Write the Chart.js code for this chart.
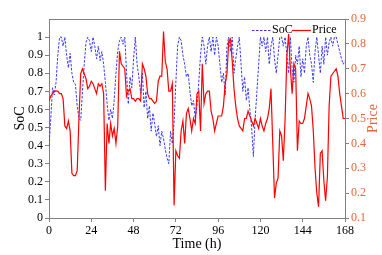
<!DOCTYPE html>
<html>
<head>
<meta charset="utf-8">
<script src="https://cdn.jsdelivr.net/npm/chart.js@4"></script>
<style>
  body { margin: 0; background: #fff; }
  #wrap { width: 382px; height: 255px; }
</style>
</head>
<body>
<div id="wrap"><canvas id="socChart" width="382" height="255"></canvas></div>
<script>
// hourly time axis, 0..168 h
const hours = Array.from({ length: 169 }, (_, i) => i);

const socValues = [
  0.40, 0.55, 0.72, 0.68, 0.75, 0.90, 1.00, 1.00, 0.95, 1.00,
  0.90, 0.83, 0.91, 0.80, 0.75, 0.74, 0.62, 0.55, 0.54, 0.70,
  0.85, 0.97, 1.00, 0.98, 0.92, 1.00, 0.95, 0.88, 0.95, 0.87,
  0.92, 0.85, 0.75, 0.63, 0.54, 0.60, 0.55, 0.65, 0.80, 0.92,
  0.98, 1.00, 0.96, 1.00, 0.81, 0.63, 0.78, 0.72, 0.88, 1.00,
  0.85, 0.78, 0.69, 0.80, 0.61, 0.70, 0.55, 0.62, 0.48, 0.58,
  0.52, 0.45, 0.51, 0.40, 0.48, 0.44, 0.38, 0.33, 0.30, 0.48,
  0.41, 0.53, 0.75, 0.95, 1.00, 0.98, 0.90, 0.85, 0.78, 0.80,
  0.70, 0.62, 0.65, 0.55, 0.62, 0.75, 0.90, 1.00, 0.95, 0.85,
  0.95, 1.00, 0.92, 1.00, 0.90, 1.00, 0.95, 0.85, 0.75, 0.80,
  0.68, 0.95, 1.00, 0.92, 1.00, 0.80, 0.88, 0.95, 1.00, 0.85,
  0.70, 0.78, 0.65, 0.72, 0.60, 0.50, 0.34, 0.55, 0.70, 0.85,
  1.00, 0.95, 1.00, 0.92, 1.00, 0.85, 0.95, 1.00, 0.88, 0.80,
  0.90, 1.00, 1.00, 0.95, 1.00, 0.90, 0.80, 1.00, 0.82, 0.75,
  0.90, 0.85, 0.95, 0.78, 0.88, 0.80, 0.95, 1.00, 0.90, 0.85,
  0.75, 0.92, 1.00, 0.90, 0.80, 0.95, 0.85, 1.00, 0.90, 0.97,
  1.00, 0.95, 1.00, 1.00, 0.96, 0.92, 0.88, 0.85, 0.87
];

const priceValues = [
  0.57, 0.59, 0.60, 0.61, 0.61, 0.61, 0.60, 0.60, 0.58, 0.47,
  0.46, 0.49, 0.45, 0.28, 0.27, 0.27, 0.29, 0.50, 0.68, 0.70,
  0.68, 0.66, 0.62, 0.63, 0.65, 0.64, 0.62, 0.60, 0.64, 0.63,
  0.64, 0.60, 0.21, 0.48, 0.40, 0.48, 0.43, 0.46, 0.40, 0.47,
  0.77, 0.72, 0.71, 0.70, 0.59, 0.61, 0.62, 0.58, 0.58, 0.57,
  0.58, 0.58, 0.57, 0.72, 0.70, 0.67, 0.60, 0.58, 0.58, 0.57,
  0.56, 0.57, 0.65, 0.67, 0.67, 0.85, 0.73, 0.70, 0.61, 0.61,
  0.64, 0.15, 0.37, 0.35, 0.34, 0.45, 0.49, 0.40, 0.52, 0.54,
  0.50, 0.45, 0.50, 0.48, 0.60, 0.61, 0.45, 0.72, 0.56, 0.60,
  0.61, 0.61, 0.53, 0.50, 0.45, 0.48, 0.51, 0.51, 0.51, 0.55,
  0.64, 0.68, 0.81, 0.82, 0.73, 0.62, 0.55, 0.50, 0.47, 0.46,
  0.45, 0.50, 0.50, 0.53, 0.51, 0.49, 0.47, 0.50, 0.48, 0.46,
  0.50, 0.47, 0.45, 0.48, 0.50, 0.54, 0.62, 0.40, 0.18, 0.24,
  0.26, 0.45, 0.43, 0.33, 0.50, 0.75, 0.84, 0.70, 0.60, 0.72,
  0.70, 0.37, 0.49, 0.48, 0.48, 0.50, 0.55, 0.60, 0.58, 0.55,
  0.45, 0.30, 0.20, 0.145, 0.36, 0.37, 0.25, 0.17, 0.265, 0.55,
  0.67, 0.68, 0.69, 0.70, 0.67, 0.60, 0.55, 0.50, 0.50
];

const serif = 'Liberation Serif';
const axisGray = '#808080';
const priceAxisColor = '#e2683a';
const socColor = 'rgb(55, 55, 255)';
const priceColor = '#ff0000';

// frame top edge + right-axis title (reads bottom-to-top) + legend inside plot
const framePlugin = {
    id: 'frame',
    afterDraw(chart) {
        const { ctx, chartArea } = chart;
        ctx.save();
        ctx.strokeStyle = axisGray;
        ctx.lineWidth = 1;
        ctx.beginPath();
        ctx.moveTo(chartArea.left, chartArea.top + 0.5);
        ctx.lineTo(chartArea.right, chartArea.top + 0.5);
        ctx.stroke();

        ctx.fillStyle = priceAxisColor;
        ctx.font = '14px "' + serif + '"';
        ctx.textAlign = 'center';
        ctx.textBaseline = 'middle';
        ctx.translate(373, (chartArea.top + chartArea.bottom) / 2);
        ctx.rotate(-Math.PI / 2);
        ctx.fillText('Price', 0, 0);
        ctx.restore();

        // legend
        const items = chart.data.datasets.map(ds => ({
            text: ds.label, color: ds.borderColor, dash: ds.borderDash || [], width: ds.borderWidth
        }));
        const starts = [252, 292];
        ctx.save();
        ctx.font = '12px "' + serif + '"';
        ctx.textBaseline = 'middle';
        ctx.textAlign = 'left';
        const ly = 30;
        items.forEach((it, i) => {
            const x0 = starts[i];
            ctx.strokeStyle = it.color;
            ctx.lineWidth = it.width;
            ctx.setLineDash(it.dash);
            ctx.beginPath();
            ctx.moveTo(x0, ly + 0.5);
            ctx.lineTo(x0 + 19, ly + 0.5);
            ctx.stroke();
            ctx.setLineDash([]);
            ctx.fillStyle = '#000';
            ctx.fillText(it.text, x0 + 20, ly);
        });
        ctx.restore();
    }
};

const ctx = document.getElementById('socChart').getContext('2d');
const chart = new Chart(ctx, {
    type: 'line',
    data: {
        labels: hours,
        datasets: [
            {
                label: 'SoC',
                data: socValues,
                yAxisID: 'y',
                borderColor: socColor,
                borderWidth: 1,
                borderDash: [2.5, 1.5],
                pointRadius: 0,
                tension: 0,
                fill: false,
                order: 2
            },
            {
                label: 'Price',
                data: priceValues,
                yAxisID: 'y1',
                borderColor: priceColor,
                borderWidth: 1.2,
                pointRadius: 0,
                tension: 0,
                fill: false,
                order: 1
            }
        ]
    },
    options: {
        responsive: false,
        animation: false,
        layout: { padding: { top: 19, left: 0, right: 0, bottom: 0 } },
        plugins: {
            legend: { display: false },
            tooltip: { enabled: false }
        },
        scales: {
            x: {
                type: 'linear',
                min: 0,
                max: 168,
                ticks: { stepSize: 24, color: '#000', font: { family: serif, size: 12 }, padding: 2, maxRotation: 0 },
                grid: { drawOnChartArea: false, tickLength: 4, color: axisGray },
                border: { color: axisGray },
                title: { display: true, text: 'Time (h)', color: '#000', font: { family: serif, size: 14 }, padding: { top: 0, bottom: 2 } },
                afterFit: s => { s.height = 37; }
            },
            y: {
                position: 'left',
                min: 0,
                max: 1.1,
                ticks: {
                    stepSize: 0.1, color: '#000', font: { family: serif, size: 12 }, padding: 2,
                    callback: v => +v.toFixed(1)
                },
                afterBuildTicks: s => { s.ticks = s.ticks.filter(t => t.value < 1.05); },
                grid: { drawOnChartArea: false, tickLength: 4, color: axisGray },
                border: { color: axisGray },
                title: { display: true, text: 'SoC', color: '#000', font: { family: serif, size: 14 }, padding: { top: 12, bottom: 0 } },
                afterFit: s => { s.width = 49; }
            },
            y1: {
                position: 'right',
                min: 0.1,
                max: 0.9,
                ticks: {
                    stepSize: 0.1, color: priceAxisColor, font: { family: serif, size: 12 }, padding: 2,
                    callback: v => +v.toFixed(1)
                },
                grid: { drawOnChartArea: false, tickLength: 4, color: axisGray },
                border: { color: axisGray },
                afterFit: s => { s.width = 37; }
            }
        }
    },
    plugins: [framePlugin]
});
</script>
</body>
</html>
